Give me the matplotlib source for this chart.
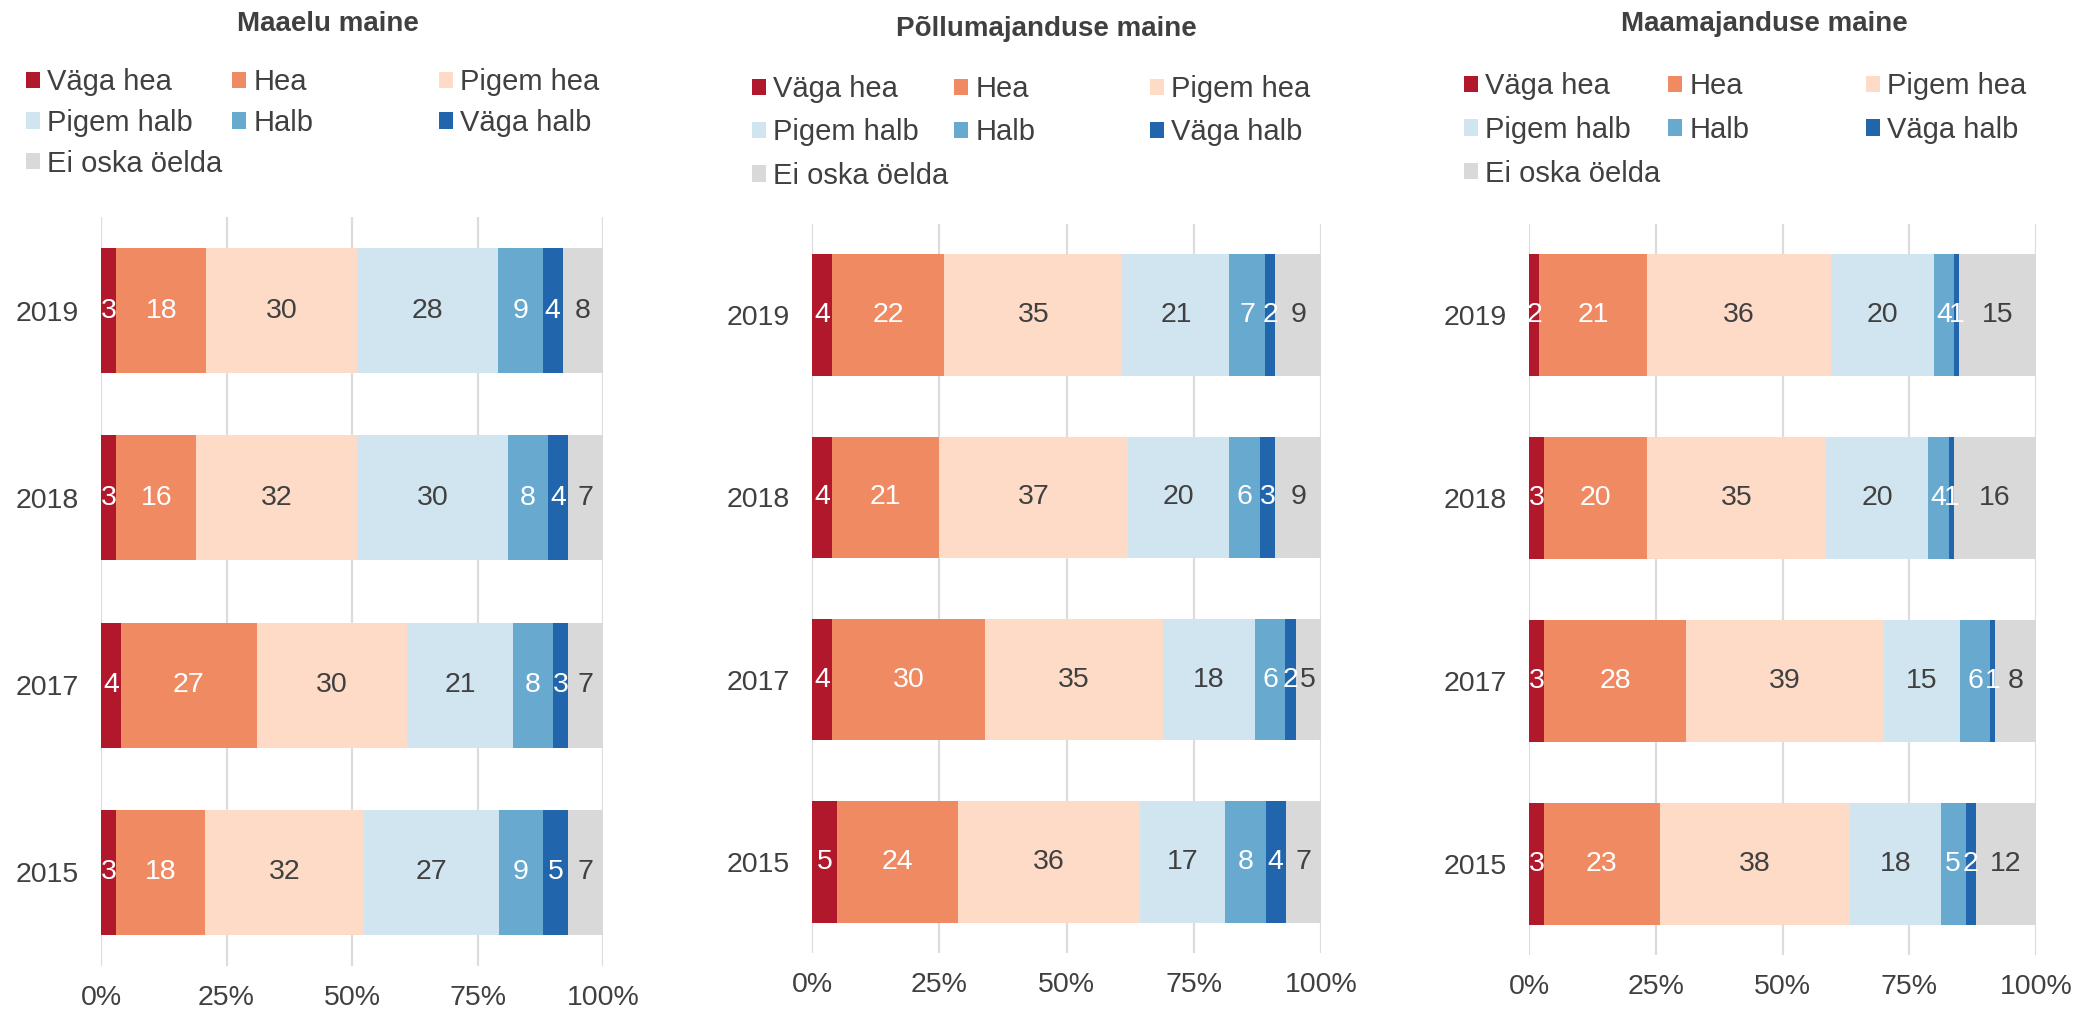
import matplotlib
matplotlib.use("Agg")
import matplotlib.pyplot as plt
import numpy as np
from matplotlib.patches import Patch

plt.rcParams['font.family'] = ['Liberation Sans', 'DejaVu Sans']

years = ["2019", "2018", "2017", "2015"]
categories = ["Väga hea", "Hea", "Pigem hea", "Pigem halb", "Halb", "Väga halb", "Ei oska öelda"]
colors = ["#b2182b", "#ef8a62", "#fddbc7", "#d1e5f0", "#67a9cf", "#2166ac", "#d9d9d9"]
label_colors = ["white", "white", "#404040", "#404040", "white", "white", "#404040"]

# one row per category, columns follow `years`
maaelu = [
    [3, 3, 4, 3],
    [18, 16, 27, 18],
    [30, 32, 30, 32],
    [28, 30, 21, 27],
    [9, 8, 8, 9],
    [4, 4, 3, 5],
    [8, 7, 7, 7],
]
pollumajandus = [
    [4, 4, 4, 5],
    [22, 21, 30, 24],
    [35, 37, 35, 36],
    [21, 20, 18, 17],
    [7, 6, 6, 8],
    [2, 3, 2, 4],
    [9, 9, 5, 7],
]
maamajandus = [
    [2, 3, 3, 3],
    [21, 20, 28, 23],
    [36, 35, 39, 38],
    [20, 20, 15, 18],
    [4, 4, 6, 5],
    [1, 1, 1, 2],
    [15, 16, 8, 12],
]
titles = ["Maaelu maine", "Põllumajanduse maine", "Maamajanduse maine"]

TEXT = "#404040"
W, H = 2077, 1010
fig = plt.figure(figsize=(W / 100, H / 100), dpi=100)

# layout in pixels: axes (left, top, right, bottom), title centre, legend columns, legend top, row spacing
layout = [
    ((101, 217, 603, 966), (328, 24), [26, 232, 439], 68, 0.44),
    ((812, 224, 1321, 953), (1046, 29), [752, 954, 1150], 75, 0.53),
    ((1529, 224, 2036, 955), (1764, 24), [1464, 1668, 1866], 72, 0.54),
]

handles = [Patch(facecolor=c, edgecolor="none") for c in colors]
legend_cols = [[0, 3, 6], [1, 4], [2, 5]]

for title, data, (box, tpos, lx, ltop, lsp) in zip(titles, [maaelu, pollumajandus, maamajandus], layout):
    l, t, r, b = box
    ax = fig.add_axes([l / W, 1 - b / H, (r - l) / W, (b - t) / H])
    vals = np.array(data, dtype=float)
    shares = vals / vals.sum(axis=0) * 100  # 100% stacked
    y = np.arange(len(years))
    left = np.zeros(len(years))
    for i, cat in enumerate(categories):
        bars = ax.barh(y, shares[i], left=left, height=0.667, color=colors[i], linewidth=0)
        ax.bar_label(bars, labels=[f"{v:.0f}" for v in vals[i]], label_type="center",
                     color=label_colors[i], fontsize=20.5)
        left += shares[i]

    ax.set_xlim(0, 100)
    ax.set_ylim(len(years) - 0.5, -0.5)
    ax.set_yticks(y, years)
    ax.set_xticks([0, 25, 50, 75, 100], ["0%", "25%", "50%", "75%", "100%"])
    ax.tick_params(length=0, labelsize=20.5, colors=TEXT)
    ax.tick_params(axis="y", pad=16)
    ax.tick_params(axis="x", pad=14)
    for s in ax.spines.values():
        s.set_visible(False)
    ax.grid(axis="x", color="#dcdcdc", linewidth=1.6)
    ax.set_axisbelow(True)

    fig.text(tpos[0] / W, 1 - tpos[1] / H, title, ha="center", va="center",
             fontsize=20, fontweight="bold", color=TEXT)

    for cx, idx in zip(lx, legend_cols):
        leg = fig.legend([handles[k] for k in idx], [categories[k] for k in idx],
                         loc="upper left", bbox_to_anchor=(cx / W, 1 - ltop / H),
                         bbox_transform=fig.transFigure, frameon=False, fontsize=21,
                         handlelength=0.48, handleheight=0.48, handletextpad=0.25,
                         labelspacing=lsp, borderpad=0, borderaxespad=0)
        for txt in leg.get_texts():
            txt.set_color(TEXT)

fig.savefig("out.png", dpi=100)
